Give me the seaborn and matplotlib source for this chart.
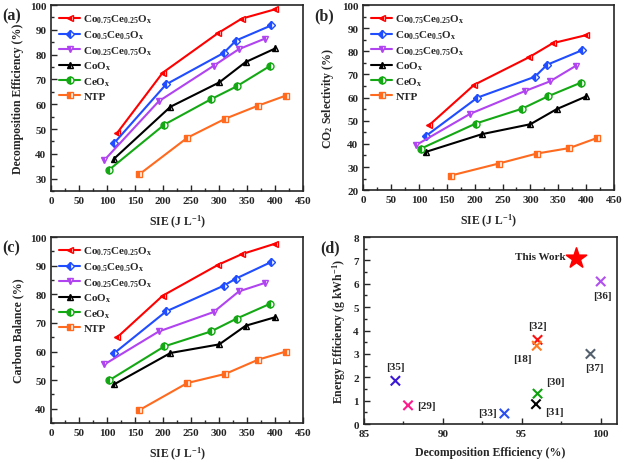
import numpy as np
import pandas as pd
import matplotlib
matplotlib.use("Agg")
import matplotlib.pyplot as plt
import seaborn as sns
from matplotlib.ticker import MultipleLocator

sns.set_style("ticks")
plt.rcParams['font.family'] = ['Liberation Serif', 'DejaVu Serif']
plt.rcParams['font.weight'] = 'bold'
plt.rcParams['axes.labelweight'] = 'bold'
plt.rcParams['mathtext.fontset'] = 'custom'
plt.rcParams['mathtext.rm'] = 'Liberation Serif:bold'
plt.rcParams['mathtext.it'] = 'Liberation Serif:bold'
plt.rcParams['mathtext.bf'] = 'Liberation Serif:bold'

# Catalysts
labels = [r'Co$\mathregular{_{0.75}}$Ce$\mathregular{_{0.25}}$O$\mathregular{_x}$',
          r'Co$\mathregular{_{0.5}}$Ce$\mathregular{_{0.5}}$O$\mathregular{_x}$',
          r'Co$\mathregular{_{0.25}}$Ce$\mathregular{_{0.75}}$O$\mathregular{_x}$',
          r'CoO$\mathregular{_x}$', r'CeO$\mathregular{_x}$', 'NTP']
colors = ['#ff0000', '#1f4dff', '#b044f0', '#000000', '#14a814', '#ff6a1f']
markers = ['<', 'D', 'v', '^', 'o', 's']

# SIE (J/L) for each catalyst
sie_co75 = [118, 199, 298, 340, 400]
sie_co50 = [113, 205, 308, 330, 393]
sie_co25 = [95, 192, 290, 335, 382]
sie_coox = [112, 213, 300, 347, 400]
sie_ceox = [104, 202, 285, 331, 391]
sie_ntp = [157, 243, 311, 370, 419]

# (a) decomposition efficiency (%)
de_co75 = [48.5, 72.7, 88.7, 94.5, 98.3]
de_co50 = [44.5, 68.0, 80.7, 85.7, 91.8]
de_co25 = [37.5, 61.2, 75.5, 82.2, 86.5]
de_coox = [38.0, 59.0, 68.8, 77.0, 82.5]
de_ceox = [33.7, 51.8, 62.0, 67.2, 75.5]
de_ntp = [31.7, 46.5, 54.2, 59.5, 63.5]

# (b) CO2 selectivity (%)
sel_co75 = [48.0, 65.5, 77.5, 83.5, 87.0]
sel_co50 = [43.5, 60.0, 69.0, 74.2, 80.5]
sel_co25 = [39.5, 53.0, 62.8, 67.0, 73.8]
sel_coox = [36.5, 44.2, 48.5, 55.0, 60.5]
sel_ceox = [38.0, 48.8, 55.2, 60.5, 66.5]
sel_ntp = [26.3, 31.5, 35.8, 38.2, 42.5]

# (c) carbon balance (%)
cb_co75 = [65.0, 79.5, 90.3, 94.0, 97.7]
cb_co50 = [59.5, 74.0, 83.0, 85.5, 91.3]
cb_co25 = [55.5, 67.0, 73.8, 81.0, 84.0]
cb_coox = [48.5, 59.5, 62.5, 69.0, 72.0]
cb_ceox = [50.0, 61.8, 67.0, 71.5, 76.7]
cb_ntp = [39.5, 49.0, 52.2, 57.2, 60.0]

# (d) literature comparison
ref_names = ['[35]', '[29]', '[33]', '[32]', '[18]', '[30]', '[31]', '[37]', '[36]']
ref_de = [87.0, 87.8, 93.9, 96.0, 95.95, 96.0, 95.9, 99.35, 100.0]
ref_ee = [1.85, 0.8, 0.45, 3.6, 3.35, 1.3, 0.85, 3.0, 6.1]
ref_colors = ['#3a18d6', '#ff1a8c', '#2a50f0', '#ff1010', '#ff7a20', '#10a010', '#000000', '#55606e', '#b050f0']
this_de = [98.45]
this_ee = [7.1]

sie = [sie_co75, sie_co50, sie_co25, sie_coox, sie_ceox, sie_ntp]
panels = [
    ('(a)', [de_co75, de_co50, de_co25, de_coox, de_ceox, de_ntp], 'Decomposition Efficiency (%)', (25, 100), range(30, 101, 10)),
    ('(b)', [sel_co75, sel_co50, sel_co25, sel_coox, sel_ceox, sel_ntp], r'CO$\mathregular{_2}$ Selectivity (%)', (20, 100), range(20, 101, 10)),
    ('(c)', [cb_co75, cb_co50, cb_co25, cb_coox, cb_ceox, cb_ntp], 'Carbon Balance (%)', (35, 100), range(40, 101, 10)),
]
positions = [[0.082, 0.586, 0.404, 0.401], [0.582, 0.588, 0.402, 0.399],
             [0.082, 0.086, 0.404, 0.401]]
tag_x = [0.003, 0.504, 0.003]

fig = plt.figure(figsize=(6.24, 4.64), dpi=100)


def style_axis(ax):
    ax.tick_params(which='both', direction='in', top=False, right=False, labelsize=8)
    ax.tick_params(which='major', length=4, width=1)
    ax.tick_params(which='minor', length=2, width=1)
    for s in ax.spines.values():
        s.set_linewidth(1.2)
    for lab in ax.get_xticklabels() + ax.get_yticklabels():
        lab.set_fontweight('bold')


for (tag, ys, ylabel, ylim, yt), pos, tx in zip(panels, positions, tag_x):
    ax = fig.add_axes(pos)
    for i in range(6):
        df = pd.DataFrame({'SIE': sie[i], 'val': ys[i]})
        sns.lineplot(data=df, x='SIE', y='val', ax=ax, sort=False, color=colors[i],
                     marker=markers[i], markersize=5 if markers[i] != 'D' else 4.5,
                     fillstyle='left', markerfacecoloralt='white',
                     markeredgecolor=colors[i], markeredgewidth=1, lw=1.5, label=labels[i])
    ax.set_xlim(0, 450)
    ax.set_ylim(*ylim)
    ax.set_xticks(range(0, 451, 50))
    ax.set_yticks(list(yt))
    ax.xaxis.set_minor_locator(MultipleLocator(25))
    ax.yaxis.set_minor_locator(MultipleLocator(5))
    ax.set_xlabel(r'SIE (J L$\mathregular{^{-1}}$)', fontsize=8.5, fontweight='bold', labelpad=6)
    ax.set_ylabel(ylabel, fontsize=8.5, fontweight='bold')
    style_axis(ax)
    ax.legend(loc='upper left', frameon=False, handlelength=1.9,
              handletextpad=0.3, labelspacing=0.28, borderaxespad=0.3,
              prop={'weight': 'bold', 'size': 8})
    fig.text(tx, pos[1] + pos[3] - 0.03, tag, fontsize=11.5, fontweight='bold')

# Panel (d)
ax = fig.add_axes([0.583, 0.084, 0.405, 0.403])
dfd = pd.DataFrame({'DE': ref_de, 'EE': ref_ee, 'ref': ref_names})
sns.scatterplot(data=dfd, x='DE', y='EE', hue='ref', palette=ref_colors, marker='x',
                s=45, linewidth=1.5, ax=ax, legend=False)
sns.scatterplot(x=this_de, y=this_ee, marker='*', s=230, color='#ff0000',
                edgecolor='#ff0000', ax=ax, legend=False)
offsets = {'[35]': (0, 0.6, 'center'), '[29]': (0.55, 0.0, 'left'),
           '[33]': (-0.45, 0.05, 'right'), '[32]': (0.0, 0.6, 'center'),
           '[18]': (-0.3, -0.55, 'right'), '[30]': (0.55, 0.5, 'left'),
           '[31]': (0.55, -0.3, 'left'), '[37]': (0.25, -0.6, 'center'),
           '[36]': (0.1, -0.6, 'center')}
for name, x, y in zip(ref_names, ref_de, ref_ee):
    dx, dy, ha = offsets[name]
    ax.text(x + dx, y + dy, name, ha=ha, va='center', fontsize=8, fontweight='bold')
ax.text(this_de[0] - 0.7, this_ee[0] + 0.05, 'This Work', ha='right', va='center',
        fontsize=8, fontweight='bold')
ax.set_xlim(85, 101)
ax.set_ylim(0, 8)
ax.set_xticks(range(85, 101, 5))
ax.set_yticks(range(0, 9))
ax.xaxis.set_minor_locator(MultipleLocator(2.5))
ax.yaxis.set_minor_locator(MultipleLocator(0.5))
ax.set_xlabel('Decomposition Efficiency (%)', fontsize=8.5, fontweight='bold', labelpad=6)
ax.set_ylabel(r'Energy Efficiency (g kWh$\mathregular{^{-1}}$)', fontsize=8.5, fontweight='bold')
style_axis(ax)
fig.text(0.513, 0.487 - 0.03, '(d)', fontsize=11.5, fontweight='bold')

fig.savefig('out.png', dpi=100)
